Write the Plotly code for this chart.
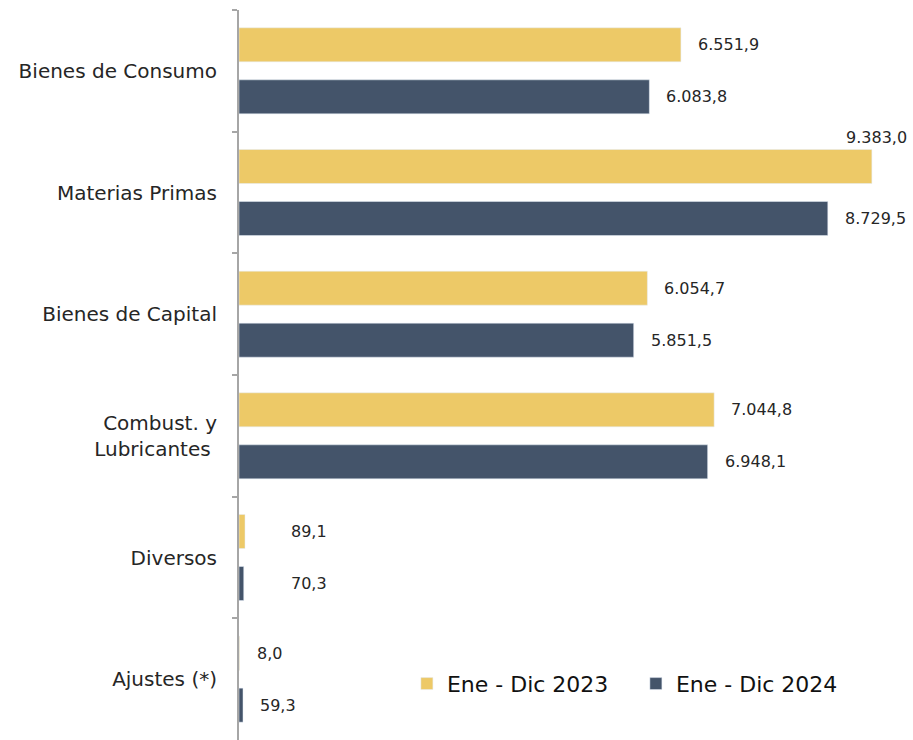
import plotly.graph_objects as go

categories = ["Bienes de Consumo", "Materias Primas", "Bienes de Capital",
              "Combust. y<br>Lubricantes ", "Diversos", "Ajustes (*)"]
values_2023 = [6551.9, 9383.0, 6054.7, 7044.8, 89.1, 8.0]
values_2024 = [6083.8, 8729.5, 5851.5, 6948.1, 70.3, 59.3]
series_names = ["Ene - Dic 2023", "Ene - Dic 2024"]

COL_2023 = "#EDC967"
COL_2024 = "#44546A"
FONT = "DejaVu Sans"
TXT = "#262626"


def fmt(v):
    s = f"{v:,.1f}"
    return s.replace(",", "X").replace(".", ",").replace("X", ".")


fig = go.Figure()
fig.add_trace(go.Bar(y=categories, x=values_2023, orientation="h", name=series_names[0],
                     marker=dict(color=COL_2023), hoverinfo="skip"))
fig.add_trace(go.Bar(y=categories, x=values_2024, orientation="h", name=series_names[1],
                     marker=dict(color=COL_2024), hoverinfo="skip"))

# label offsets (pixels) per category: (xshift 2023, xshift 2024)
xshift_default = 15
xshift_over = {4: (44, 45)}
label_font = dict(family=FONT, size=16, color=TXT)

for i, cat in enumerate(categories):
    xs = xshift_over.get(i, (xshift_default, xshift_default))
    if i == 1:
        # largest value: label placed above the bar, right aligned
        fig.add_annotation(x=values_2023[i], y=cat, text=fmt(values_2023[i]), showarrow=False,
                           xanchor="right", yanchor="middle", xshift=37, yshift=55,
                           font=label_font)
    else:
        fig.add_annotation(x=values_2023[i], y=cat, text=fmt(values_2023[i]), showarrow=False,
                           xanchor="left", yanchor="middle", xshift=xs[0], yshift=26,
                           font=label_font)
    fig.add_annotation(x=values_2024[i], y=cat, text=fmt(values_2024[i]), showarrow=False,
                       xanchor="left", yanchor="middle", xshift=xs[1], yshift=-26,
                       font=label_font)

fig.update_layout(
    width=913, height=740,
    margin=dict(l=239, r=13, t=10, b=0),
    paper_bgcolor="white", plot_bgcolor="white",
    barmode="group", bargap=0.145, bargroupgap=0.346,
    font=dict(family=FONT, size=20, color=TXT),
    showlegend=True,
    legend=dict(orientation="h", x=0.254, y=0.077, xanchor="left", yanchor="middle",
                font=dict(family=FONT, size=22, color="#111111"),
                bgcolor="rgba(0,0,0,0)", entrywidth=184, entrywidthmode="pixels",
                itemclick=False, itemdoubleclick=False),
    xaxis=dict(range=[0, 9800], showticklabels=False, showgrid=False, zeroline=False,
               showline=False, ticks=""),
    yaxis=dict(autorange="reversed", type="category", showgrid=False, zeroline=False,
               showline=True, linecolor="#A6A6A6", linewidth=2,
               ticks="outside", ticklen=5, tickcolor="#A6A6A6", tickwidth=2,
               tickson="boundaries", ticklabelstandoff=16,
               tickfont=dict(family=FONT, size=20, color=TXT)),
)

fig.write_html("out.html", post_script="document.body.style.margin='0';",
               config={"displayModeBar": False})
